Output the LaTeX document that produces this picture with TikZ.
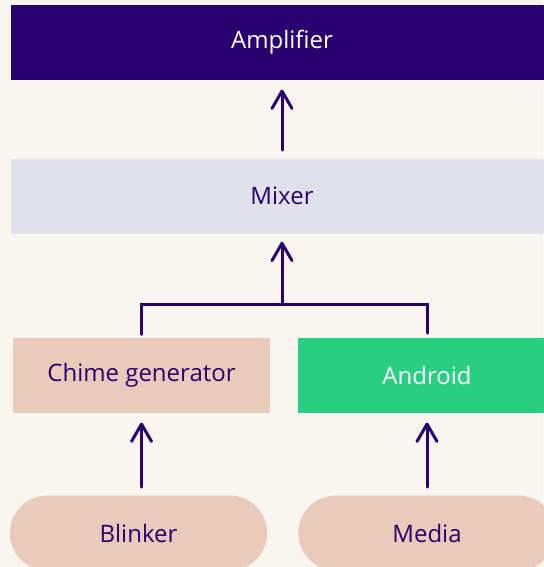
\documentclass[tikz,border=0pt]{standalone}
\usepackage{fontspec}
\setmainfont{Open Sans}
\usepackage{tikz}
\usetikzlibrary{arrows.meta,shapes.misc}
\definecolor{ink}{HTML}{2A006E}
\definecolor{paper}{HTML}{F9F5F1}
\definecolor{haze}{HTML}{E1E1EB}
\definecolor{peach}{HTML}{EACABA}
\definecolor{mint}{HTML}{29CF80}
\tikzset{
    flow-box/.style = {rectangle, inner sep=0pt, minimum height=56.25pt, text=ink, font=\fontsize{18}{22}\selectfont},
    flow-pill/.style = {flow-box, rounded rectangle, fill=peach, minimum width=193pt},
    flow-line/.style = {draw=ink, line width=2.25pt, line cap=round},
    flow-arrow/.style = {flow-line, -{Straight Barb[round,length=13pt,width=15pt]}},
}

\begin{document}
\begin{tikzpicture}[x=0.75pt, y=-0.75pt]
\useasboundingbox (0,0) rectangle (543,567);
\fill[paper] (0,0) rectangle (543,567);
\node[flow-box, fill=ink, text=white, minimum width=406.5pt] (amplifier) at (282,42.5) {Amplifier};
\node[flow-box, fill=haze, minimum width=406.5pt] (mixer) at (282,196) {Mixer};
\node[flow-box, fill=peach, minimum width=192.75pt] (chime) at (141.5,375.5) {Chime generator};
\node[flow-box, fill=mint, text=white, minimum width=193.5pt] (android) at (427,375.5) {Android};
\node[flow-pill] (blinker) at (138.5,533) {Blinker};
\node[flow-pill] (media) at (427,533) {Media};
\coordinate (junction) at (282,304);

\draw[flow-arrow, shorten <=6pt, shorten >=7pt] (blinker.north -| chime.south) -- (chime.south);
\draw[flow-arrow, shorten <=6pt, shorten >=7pt] (media.north) -- (android.south);
\draw[flow-line, shorten <=2.5pt, shorten >=3.5pt] (chime.north) |- (junction) -| (android.north);
\draw[flow-arrow, shorten >=6pt] (junction) -- (mixer.south);
\draw[flow-arrow, shorten <=6pt, shorten >=7pt] (mixer.north) -- (amplifier.south);
\end{tikzpicture}
\end{document}
